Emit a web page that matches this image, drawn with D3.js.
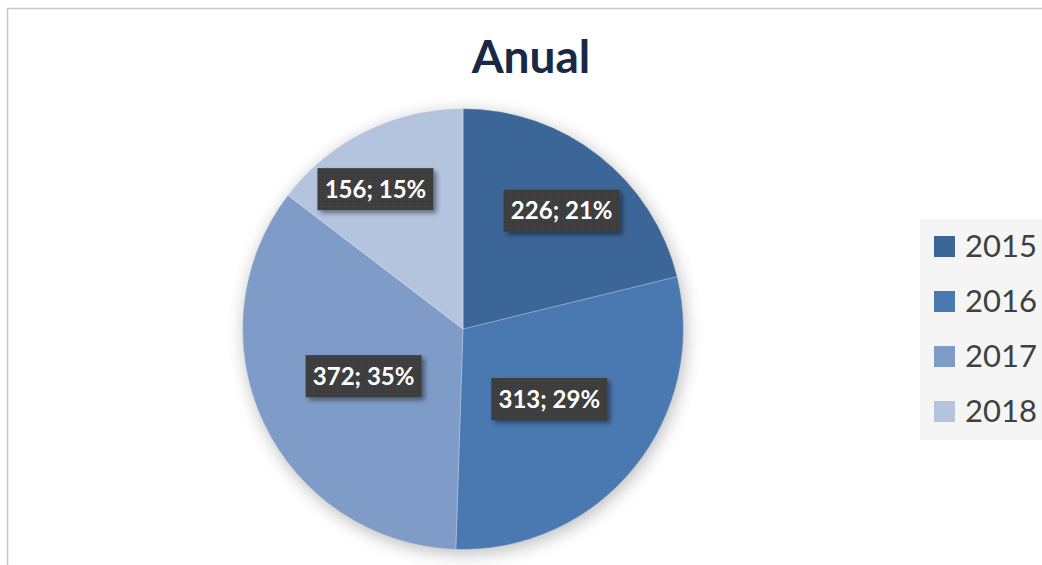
<!DOCTYPE html>
<html lang="es">
<head>
  <meta charset="UTF-8">
  <title>Anual</title>
  <script src="https://d3js.org/d3.v7.min.js"></script>
  <style>
    body {
      margin: 0;
      padding: 0;
      background: #fff;
    }
    svg text {
      font-family: Lato, "Open Sans", sans-serif;
    }
  </style>
</head>
<body>
  <div id="chart"></div>

  <script>
    // Data
    const years = ['2015', '2016', '2017', '2018'];
    const values = [226, 313, 372, 156];
    const colors = ['#3d6698', '#4a78b0', '#7f9cc8', '#b4c4df'];

    // where each label sits: fraction of radius, and a small turn (radians)
    const labelReach = [0.70, 0.505, 0.50, 0.75];
    const labelTurn = [0.03, 0, 0, -0.1];

    const width = 1042;
    const height = 565;
    const cx = 463, cy = 329, radius = 220;

    const svg = d3.select('#chart')
      .append('svg')
      .attr('width', width)
      .attr('height', height);

    const defs = svg.append('defs');

    const glow = defs.append('filter')
      .attr('id', 'glow')
      .attr('x', '-30%').attr('y', '-30%')
      .attr('width', '160%').attr('height', '160%');
    glow.append('feGaussianBlur').attr('stdDeviation', 9);

    const boxShadow = defs.append('filter')
      .attr('id', 'boxShadow')
      .attr('x', '-20%').attr('y', '-40%')
      .attr('width', '150%').attr('height', '200%');
    boxShadow.append('feDropShadow')
      .attr('dx', 3).attr('dy', 3)
      .attr('stdDeviation', 2.5)
      .attr('flood-color', '#000')
      .attr('flood-opacity', 0.45);

    const dots = defs.append('pattern')
      .attr('id', 'dots')
      .attr('width', 4).attr('height', 4)
      .attr('patternUnits', 'userSpaceOnUse');
    dots.append('rect').attr('width', 4).attr('height', 4).attr('fill', '#3e3e3e');
    dots.append('rect').attr('x', 1).attr('y', 1).attr('width', 1).attr('height', 1).attr('fill', '#4a4a4a');

    // chart frame
    svg.append('path')
      .attr('d', `M7.5,${height} V8.5 H${width}`)
      .attr('fill', 'none')
      .attr('stroke', '#c6c6c6')
      .attr('stroke-width', 1.5);

    // title
    svg.append('text')
      .attr('x', 531)
      .attr('y', 73)
      .attr('text-anchor', 'middle')
      .attr('font-size', 46)
      .attr('font-weight', 700)
      .attr('fill', '#172945')
      .text('Anual');

    const g = svg.append('g').attr('transform', `translate(${cx},${cy})`);

    // soft shadow round the pie
    g.append('circle')
      .attr('cx', 2).attr('cy', 4)
      .attr('r', radius)
      .attr('fill', '#000')
      .attr('opacity', 0.28)
      .attr('filter', 'url(#glow)');

    const pie = d3.pie().sort(null).value(d => d.value);
    const arc = d3.arc().innerRadius(0).outerRadius(radius);

    const data = years.map((y, i) => ({
      year: y, value: values[i], color: colors[i],
      reach: labelReach[i], turn: labelTurn[i]
    }));
    const arcs = pie(data);
    const total = d3.sum(values);

    g.selectAll('path.slice')
      .data(arcs)
      .enter()
      .append('path')
      .attr('class', 'slice')
      .attr('d', arc)
      .attr('fill', d => d.data.color)
      .attr('stroke', d => d.data.color)
      .attr('stroke-width', 0.5);

    // thin light separators like the original
    g.selectAll('line.sep')
      .data(arcs)
      .enter()
      .append('line')
      .attr('x1', 0).attr('y1', 0)
      .attr('x2', d => radius * Math.sin(d.startAngle))
      .attr('y2', d => -radius * Math.cos(d.startAngle))
      .attr('stroke', '#ffffff')
      .attr('stroke-opacity', 0.35)
      .attr('stroke-width', 1);

    // labels
    const lab = g.selectAll('g.lab')
      .data(arcs)
      .enter()
      .append('g')
      .attr('class', 'lab')
      .attr('transform', d => {
        const a = (d.startAngle + d.endAngle) / 2 + d.data.turn;
        const r = radius * d.data.reach;
        return `translate(${r * Math.sin(a)},${-r * Math.cos(a)})`;
      });

    lab.append('rect')
      .attr('x', -58).attr('y', -21)
      .attr('width', 116).attr('height', 42)
      .attr('fill', 'url(#dots)')
      .attr('filter', 'url(#boxShadow)');

    lab.append('text')
      .attr('text-anchor', 'middle')
      .attr('dy', '0.36em')
      .attr('font-size', 24)
      .attr('font-weight', 700)
      .attr('fill', '#ffffff')
      .text(d => `${d.data.value}; ${Math.round(d.data.value / total * 100)}%`);

    // legend
    const legend = svg.append('g');
    legend.append('rect')
      .attr('x', 920).attr('y', 219)
      .attr('width', 122).attr('height', 221)
      .attr('fill', '#f5f5f5');

    const item = legend.selectAll('g.item')
      .data(data)
      .enter()
      .append('g')
      .attr('class', 'item')
      .attr('transform', (d, i) => `translate(934,${246 + i * 55})`);

    item.append('rect')
      .attr('x', 0).attr('y', -10)
      .attr('width', 21).attr('height', 21)
      .attr('fill', d => d.color);

    item.append('text')
      .attr('x', 31)
      .attr('dy', '0.36em')
      .attr('font-size', 31)
      .attr('fill', '#404040')
      .text(d => d.year);
  </script>
</body>
</html>
